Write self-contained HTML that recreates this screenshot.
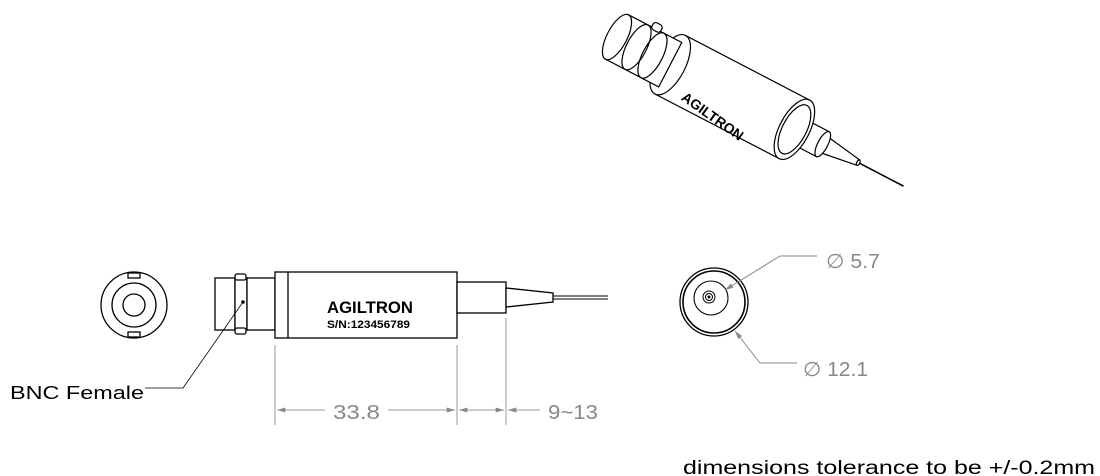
<!DOCTYPE html>
<html><head><style>
body{margin:0;background:#fff;}
svg{display:block;font-family:"Liberation Sans",sans-serif;}
</style></head><body>
<svg width="1100" height="476" viewBox="0 0 1100 476" xmlns="http://www.w3.org/2000/svg">
<defs>
<marker id="ar" viewBox="0 0 10 6" refX="10" refY="3" markerWidth="16" markerHeight="5" orient="auto-start-reverse" markerUnits="userSpaceOnUse"><path d="M0,0L10,3L0,6z" fill="#888"/></marker>
</defs>
<!-- left end view -->
<g fill="none" stroke="#000" stroke-width="1.3">
<circle cx="134" cy="305" r="33"/>
<circle cx="134" cy="305" r="22"/>
<circle cx="134" cy="305" r="11"/>
<rect x="128" y="273" width="12" height="5" fill="#fff"/>
<rect x="128" y="332" width="12" height="5" fill="#fff"/>
</g>
<!-- side view -->
<g fill="#fff" stroke="#000" stroke-width="1.3">
<rect x="215" y="278" width="20" height="52"/>
<rect x="235" y="278" width="12" height="52"/>
<rect x="235" y="274" width="11" height="6" rx="2"/>
<rect x="235" y="328" width="11" height="6" rx="2"/>
<rect x="247" y="278" width="28" height="52"/>
<rect x="275" y="272" width="182" height="66"/>
<line x1="288" y1="272" x2="288" y2="338"/>
<rect x="457" y="282" width="49" height="31"/>
<path d="M506,288 L553,293 L553,302 L506,307 Z"/>
<line x1="553" y1="296" x2="608" y2="296" stroke-width="1"/>
<line x1="553" y1="299" x2="608" y2="299" stroke-width="1"/>
</g>
<text x="327" y="313" font-size="17" font-weight="bold" textLength="86" lengthAdjust="spacingAndGlyphs">AGILTRON</text>
<text x="327" y="328" font-size="11" font-weight="bold" textLength="83" lengthAdjust="spacingAndGlyphs">S/N:123456789</text>
<circle cx="243" cy="302" r="1.8" fill="#000"/>
<polyline points="243,302 183,388 145,388" fill="none" stroke="#000" stroke-width="0.8"/>
<text x="10" y="399" font-size="18" textLength="134" lengthAdjust="spacingAndGlyphs">BNC Female</text>
<!-- dimensions -->
<g stroke="#999" stroke-width="1" fill="none">
<line x1="275" y1="345" x2="275" y2="425"/>
<line x1="457" y1="345" x2="457" y2="425"/>
<line x1="506" y1="318" x2="506" y2="425"/>
<line x1="277" y1="410" x2="325" y2="410" marker-start="url(#ar)"/>
<line x1="388" y1="410" x2="455" y2="410" marker-end="url(#ar)"/>
<line x1="459" y1="410" x2="504" y2="410" marker-start="url(#ar)" marker-end="url(#ar)"/>
<line x1="508" y1="410" x2="540" y2="410" marker-start="url(#ar)"/>
</g>
<text x="333" y="419" font-size="20" fill="#888" textLength="47" lengthAdjust="spacingAndGlyphs">33.8</text>
<text x="548" y="419" font-size="20" fill="#888" textLength="50" lengthAdjust="spacingAndGlyphs">9~13</text>
<!-- right end view -->
<g fill="none" stroke="#000">
<circle cx="714" cy="302" r="34" stroke-width="1.3"/>
<circle cx="714" cy="302" r="31" stroke-width="1.6"/>
<circle cx="711" cy="298" r="17" stroke-width="1.1"/>
<circle cx="709" cy="297" r="6" stroke-width="1"/>
<circle cx="709" cy="297" r="3.5" stroke-width="1"/>
<circle cx="709" cy="297" r="1" fill="#000"/>
</g>
<g stroke="#888" stroke-width="1" fill="none">
<polyline points="817,256 780,256 725,290" marker-end="url(#ar)"/>
<polyline points="797,363 760,363 735,331" marker-end="url(#ar)"/>
</g>
<text x="826" y="268" font-size="20" fill="#888" textLength="54" lengthAdjust="spacingAndGlyphs">∅ 5.7</text>
<text x="803" y="376" font-size="20" fill="#888" textLength="65" lengthAdjust="spacingAndGlyphs">∅ 12.1</text>
<!-- isometric view -->
<g transform="translate(617,37) rotate(27.5)" fill="#fff" stroke="#000" stroke-width="1.2">
<line x1="272" y1="0" x2="323" y2="0" stroke-width="1.6"/>
<path d="M232,-9 L272,-3 L272,3 L232,9 Z"/>
<ellipse cx="272" cy="0" rx="1.5" ry="3"/>
<rect x="200" y="-14" width="32" height="28"/>
<ellipse cx="232" cy="0" rx="5" ry="14"/>
<rect x="60" y="-33" width="140" height="66"/>
<ellipse cx="200" cy="0" rx="15" ry="33"/>
<ellipse cx="200" cy="0" rx="12" ry="27"/>
<rect x="200" y="-16" width="0.1" height="32" stroke="none"/>
<ellipse cx="60" cy="0" rx="15" ry="33"/>
<rect x="0" y="-25" width="60" height="50"/>
<ellipse cx="22" cy="0" rx="10" ry="25" fill="none"/>
<ellipse cx="40" cy="0" rx="10" ry="25" fill="none"/>
<ellipse cx="0" cy="0" rx="10" ry="25"/>
<rect x="26" y="-31" width="10" height="8" rx="3"/>
<text x="85" y="26" font-size="14" font-weight="bold" stroke="none" fill="#000" transform="rotate(8 85 26)">AGILTRON</text>
</g>
<text x="683" y="474" font-size="19" textLength="412" lengthAdjust="spacingAndGlyphs">dimensions tolerance to be +/-0.2mm</text>
</svg>
</body></html>
